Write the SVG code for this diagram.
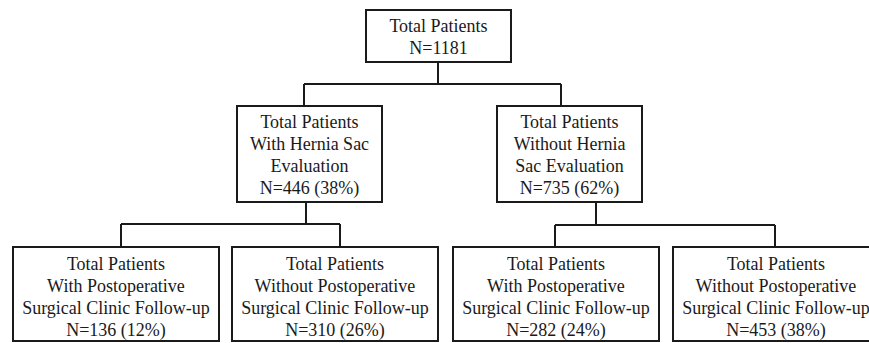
<svg xmlns="http://www.w3.org/2000/svg" width="869" height="343" viewBox="0 0 869 343">
<style>
.box{fill:#fff;stroke:#1a1a1a;stroke-width:2}
.ln{fill:none;stroke:#1a1a1a;stroke-width:2}
text{font-family:"Liberation Serif","Times New Roman",serif;font-size:18px;fill:#1a1a1a;text-anchor:middle}
</style>
<rect width="869" height="343" fill="#fff"/>
<g id="connectors">
<path class="ln" d="M438,62 V84 M304,84 H561 M304,84 V106 M561,84 V106"/>
<path class="ln" d="M306,202 V224 M121,224 H340 M121,224 V247 M340,224 V247"/>
<path class="ln" d="M596,202 V225 M555,225 H775 M555,225 V247 M775,225 V247"/>
</g>
<g id="root">
<rect class="box" x="366" y="10" width="145" height="52"/>
<text x="438.5" y="32">Total Patients</text>
<text x="438.5" y="54">N=1181</text>
</g>
<g id="with-sac">
<rect class="box" x="237" y="106" width="145" height="96"/>
<text x="309.5" y="128">Total Patients</text>
<text x="309.5" y="150">With Hernia Sac</text>
<text x="309.5" y="172">Evaluation</text>
<text x="309.5" y="194">N=446 (38%)</text>
</g>
<g id="without-sac">
<rect class="box" x="497" y="106" width="145" height="96"/>
<text x="569.5" y="128">Total Patients</text>
<text x="569.5" y="150">Without Hernia</text>
<text x="569.5" y="172">Sac Evaluation</text>
<text x="569.5" y="194">N=735 (62%)</text>
</g>
<g id="with-sac-with-fu">
<rect class="box" x="13" y="247" width="206" height="94"/>
<text x="116" y="270">Total Patients</text>
<text x="116" y="292">With Postoperative</text>
<text x="116" y="314">Surgical Clinic Follow-up</text>
<text x="116" y="336">N=136 (12%)</text>
</g>
<g id="with-sac-without-fu">
<rect class="box" x="232" y="247" width="206" height="94"/>
<text x="335" y="270">Total Patients</text>
<text x="335" y="292">Without Postoperative</text>
<text x="335" y="314">Surgical Clinic Follow-up</text>
<text x="335" y="336">N=310 (26%)</text>
</g>
<g id="without-sac-with-fu">
<rect class="box" x="453" y="247" width="206" height="94"/>
<text x="556" y="270">Total Patients</text>
<text x="556" y="292">With Postoperative</text>
<text x="556" y="314">Surgical Clinic Follow-up</text>
<text x="556" y="336">N=282 (24%)</text>
</g>
<g id="without-sac-without-fu">
<rect class="box" x="673" y="247" width="206" height="94"/>
<text x="776" y="270">Total Patients</text>
<text x="776" y="292">Without Postoperative</text>
<text x="776" y="314">Surgical Clinic Follow-up</text>
<text x="776" y="336">N=453 (38%)</text>
</g>
</svg>
